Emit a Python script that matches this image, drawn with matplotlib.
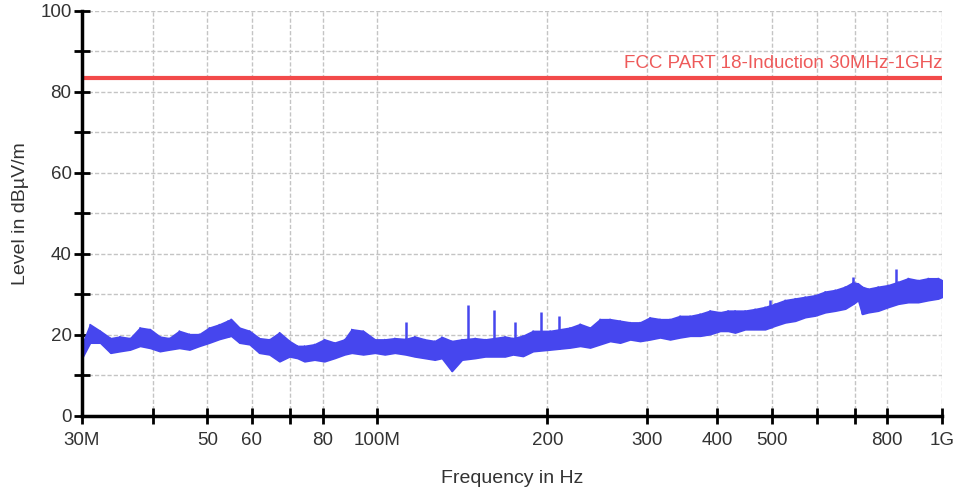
import numpy as np
import matplotlib
matplotlib.use("Agg")
import matplotlib.pyplot as plt
from matplotlib.ticker import FixedLocator, NullLocator

plt.rcParams["font.family"] = ["Liberation Sans", "DejaVu Sans"]

# --- dados (freq em MHz, nível em dBµV/m) ---
freq_mhz = [30.1, 31.0, 32.3, 33.7, 35.0, 36.5, 38.0, 39.6, 41.2, 42.8,
            44.6, 46.5, 48.4, 50.4, 52.5, 55.1, 57.0, 59.4, 61.8, 64.4,
            67.1, 69.9, 72.2, 74.3, 77.4, 80.6, 84.0, 87.5, 90.1, 94.4,
            99.0, 103.1, 107.4, 112.2, 116.5, 121.4, 126.4, 130.1, 135.5, 141.2,
            149.0, 155.2, 168.3, 173.9, 181.1, 188.7, 202.3, 219.4, 228.6, 238.1,
            248.0, 258.3, 269.1, 280.3, 291.9, 304.0, 316.7, 329.9, 343.6, 358.0,
            372.9, 388.4, 404.6, 417.9, 430.0, 448.0, 466.6, 486.0, 506.3, 527.4,
            549.4, 572.3, 596.1, 620.9, 646.9, 673.8, 695.9, 710.3, 722.1, 739.9,
            770.7, 802.8, 836.2, 871.1, 907.4, 945.2, 984.6, 1000.0]
nivel_max = [18.1, 22.6, 21.0, 19.2, 19.6, 19.2, 21.8, 21.4, 19.6, 19.2,
             21.0, 20.2, 20.2, 21.8, 22.6, 23.9, 21.8, 21.0, 19.2, 18.9,
             20.6, 18.5, 17.3, 17.3, 17.7, 18.9, 18.1, 18.9, 21.4, 21.0,
             18.9, 18.9, 19.2, 19.0, 19.6, 18.9, 18.5, 19.5, 18.5, 18.9,
             19.2, 18.9, 19.6, 19.2, 19.8, 21.0, 21.0, 21.8, 22.7, 21.8,
             23.9, 23.9, 23.5, 23.1, 23.1, 24.3, 23.9, 23.9, 24.7, 24.7,
             25.2, 26.0, 25.6, 26.0, 26.0, 26.0, 26.4, 26.9, 27.7, 28.6,
             29.0, 29.4, 29.8, 30.7, 31.1, 31.9, 33.0, 32.7, 31.9, 31.4,
             31.9, 32.3, 33.1, 34.0, 33.5, 34.0, 34.0, 33.5]
nivel_min = [14.7, 18.1, 18.1, 15.6, 16.0, 16.4, 17.3, 16.8, 16.0, 16.4,
             16.8, 16.4, 17.3, 18.1, 19.0, 19.8, 18.1, 17.7, 15.6, 15.2,
             13.5, 14.7, 14.3, 13.5, 13.9, 13.5, 14.3, 15.2, 15.6, 15.2,
             15.6, 15.2, 15.6, 15.2, 14.7, 14.3, 13.9, 14.3, 11.1, 13.9,
             14.3, 14.7, 14.7, 15.2, 14.8, 16.0, 16.4, 16.9, 17.3, 16.9,
             17.7, 18.5, 18.1, 18.9, 18.5, 18.9, 19.4, 18.9, 19.4, 19.8,
             19.8, 20.2, 21.0, 21.0, 20.6, 21.4, 21.4, 21.4, 22.3, 23.1,
             23.5, 24.4, 24.8, 25.6, 26.0, 26.5, 27.7, 28.6, 25.2, 25.6,
             26.0, 26.9, 27.7, 28.1, 28.1, 28.6, 29.0, 29.4]

# picos isolados (freq MHz, topo dBµV/m)
pico_freq = [54.3, 90.1, 112.2, 144.5, 160.9, 175.3, 195.0, 209.8, 496.0, 695.9, 829.4]
pico_topo = [23.8, 21.4, 23.3, 27.3, 26.1, 23.1, 25.6, 24.7, 28.6, 34.2, 36.2]

limite_db = 83.5
limite_txt = "FCC PART 18-Induction 30MHz-1GHz"

xticks_mhz = [30, 40, 50, 60, 70, 80, 100, 200, 300, 400, 500, 600, 700, 800, 1000]
xtick_labels = ["30M", "", "50", "60", "", "80", "100M", "200", "300", "400", "500", "", "", "800", "1G"]

azul = "#4646EE"
vermelho = "#F24A4A"
cinza_txt = "#333333"

f = np.array(freq_mhz) * 1e6
fig = plt.figure(figsize=(9.59, 4.93), dpi=100)
ax = fig.add_axes([0.0855, 0.1562, 0.8968, 0.8215])
ax.set_xscale("log")
ax.set_xlim(30e6, 1e9)
ax.set_ylim(0, 100)

# faixa de ruído medida
ax.fill_between(f, nivel_min, nivel_max, color=azul, linewidth=1.2, edgecolor=azul, zorder=3)
# traço em zigue-zague entre mínimos e máximos lidos
zz_f = np.repeat(f, 2)
zz_v = np.ravel(np.column_stack([nivel_min, nivel_max]))
ax.plot(zz_f, zz_v, color=azul, linewidth=1.0, zorder=3)
base = np.interp(np.array(pico_freq) * 1e6, f, nivel_min)
ax.vlines(np.array(pico_freq) * 1e6, base, pico_topo, color=azul, linewidth=1.8, zorder=3)

# linha de limite
ax.axhline(limite_db, color=vermelho, linewidth=3, zorder=4)
ax.text(1e9, limite_db + 1.4, limite_txt, ha="right", va="bottom", color="#EE5A5A", fontsize=13.5)

# eixos
ax.xaxis.set_major_locator(FixedLocator(np.array(xticks_mhz) * 1e6))
ax.xaxis.set_minor_locator(NullLocator())
ax.set_xticklabels(xtick_labels)
ax.set_yticks([0, 20, 40, 60, 80, 100])
ax.set_yticks([10, 30, 50, 70, 90], minor=True)
ax.tick_params(axis="both", which="both", direction="inout", length=11, width=2,
               labelsize=13.5, labelcolor=cinza_txt, color="black")
ax.tick_params(axis="x", pad=6)
ax.tick_params(axis="y", pad=2)
grade = dict(color="#C4C4C4", linestyle=(0, (3, 1.5)), linewidth=1.0)
ax.grid(True, which="both", axis="y", **grade)
ax.grid(True, which="major", axis="x", **grade)
for s in ["top", "right"]:
    ax.spines[s].set_visible(False)
for s in ["left", "bottom"]:
    ax.spines[s].set_linewidth(2.5)
    ax.spines[s].set_zorder(5)

ax.set_xlabel("Frequency in Hz", fontsize=14, color=cinza_txt, labelpad=15)
ax.set_ylabel("Level in dBµV/m", fontsize=14, color=cinza_txt, labelpad=8)

plt.savefig("out.png", dpi=100)
plt.close()
